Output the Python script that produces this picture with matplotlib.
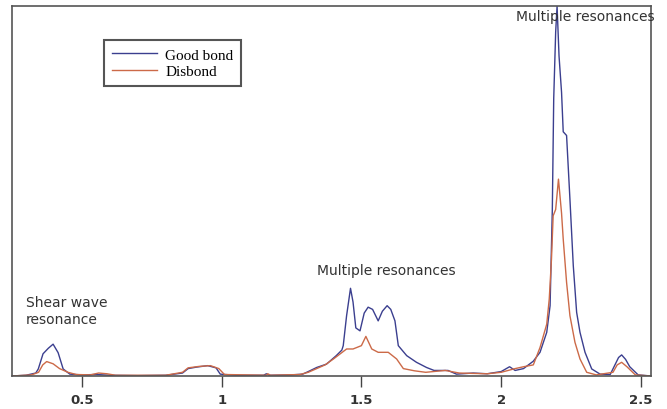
import matplotlib
matplotlib.use("Agg")
import matplotlib.pyplot as plt

# Frequency axis readings (arbitrary amplitude, peak normalised to 1)
good_x = [0.25, 0.30, 0.335, 0.344, 0.361, 0.38, 0.397, 0.415, 0.433, 0.457,
          0.50, 0.55, 0.60, 0.70, 0.80, 0.86, 0.88, 0.91, 0.95, 0.98, 0.995,
          1.05, 1.15, 1.16, 1.17, 1.25, 1.29, 1.31, 1.34, 1.375, 1.41, 1.43,
          1.435, 1.447, 1.461, 1.47, 1.48, 1.495, 1.51, 1.524, 1.54, 1.56,
          1.575, 1.592, 1.605, 1.62, 1.632, 1.662, 1.697, 1.733, 1.76, 1.81,
          1.84, 1.90, 1.95, 2.00, 2.03, 2.05, 2.08, 2.115, 2.139, 2.163, 2.175,
          2.183, 2.188, 2.195, 2.20, 2.207, 2.216, 2.222, 2.234, 2.246, 2.258,
          2.27, 2.282, 2.30, 2.324, 2.354, 2.39, 2.407, 2.42, 2.431, 2.445,
          2.46, 2.49, 2.536]
good_y = [0.0, 0.002, 0.008, 0.019, 0.06, 0.075, 0.086, 0.063, 0.019, 0.005,
          0.003, 0.004, 0.002, 0.001, 0.002, 0.008, 0.02, 0.024, 0.028, 0.022, 0.005,
          0.002, 0.002, 0.006, 0.002, 0.003, 0.005, 0.012, 0.023, 0.032, 0.055, 0.07,
          0.082, 0.163, 0.237, 0.20, 0.13, 0.122, 0.17, 0.186, 0.18, 0.149,
          0.175, 0.19, 0.18, 0.149, 0.082, 0.055, 0.037, 0.023, 0.015, 0.015,
          0.005, 0.008, 0.006, 0.012, 0.025, 0.015, 0.02, 0.04, 0.064, 0.118, 0.19,
          0.45, 0.75, 0.93, 1.0, 0.865, 0.767, 0.66, 0.65, 0.478, 0.298,
          0.172, 0.118, 0.064, 0.019, 0.005, 0.004, 0.03, 0.05, 0.057, 0.045,
          0.025, 0.003, 0.0]

dis_x = [0.25, 0.32, 0.345, 0.36, 0.374, 0.397, 0.42, 0.45, 0.48, 0.53, 0.56,
         0.59, 0.62, 0.80, 0.86, 0.88, 0.92, 0.96, 0.99, 1.01, 1.16, 1.165, 1.175,
         1.28, 1.31, 1.34, 1.37, 1.40, 1.447, 1.47, 1.50, 1.516, 1.537, 1.56,
         1.596, 1.626, 1.65, 1.69, 1.73, 1.80, 1.85, 1.95, 2.00, 2.05, 2.08,
         2.115, 2.139, 2.163, 2.172, 2.18, 2.186, 2.195, 2.205, 2.216, 2.222,
         2.234, 2.246, 2.264, 2.282, 2.306, 2.34, 2.40, 2.415, 2.431, 2.45,
         2.48, 2.536]
dis_y = [0.0, 0.003, 0.01, 0.03, 0.039, 0.033, 0.02, 0.01, 0.004, 0.003, 0.008,
         0.006, 0.002, 0.002, 0.01, 0.022, 0.026, 0.028, 0.02, 0.004, 0.002, 0.006, 0.002,
         0.004, 0.01, 0.02, 0.03, 0.046, 0.073, 0.073, 0.082, 0.107, 0.073, 0.064,
         0.064, 0.046, 0.02, 0.014, 0.01, 0.015, 0.008, 0.006, 0.01, 0.02, 0.025,
         0.03, 0.077, 0.14, 0.208, 0.316, 0.433, 0.45, 0.532, 0.44, 0.37,
         0.253, 0.163, 0.091, 0.046, 0.01, 0.003, 0.01, 0.03, 0.037, 0.025,
         0.003, 0.0]

xticks = [0.5, 1, 1.5, 2, 2.5]
xtick_labels = ["0.5", "1", "1.5", "2", "2.5"]

fig = plt.figure(figsize=(6.67, 4.10), dpi=100)
ax = fig.add_axes([0.018, 0.0805, 0.958, 0.9025])

ax.plot(good_x, good_y, color="#3b3f8f", lw=1.0, label="Good bond")
ax.plot(dis_x, dis_y, color="#cc6a48", lw=1.0, label="Disbond")

ax.set_xlim(0.25, 2.536)
ax.set_ylim(0, 1.0)
ax.set_yticks([])
ax.set_xticks(xticks)
ax.set_xticklabels(xtick_labels, fontsize=9.5, fontweight="bold", color="#333333")
ax.tick_params(axis="x", direction="out", length=8, width=1, color="#444444", pad=4)
for s in ax.spines.values():
    s.set_color("#555555")
    s.set_linewidth(1.2)

leg = ax.legend(loc="upper left", bbox_to_anchor=(0.144, 0.907), frameon=True,
                fancybox=False, edgecolor="#555555", framealpha=1,
                prop={"family": "Liberation Serif", "size": 11},
                handlelength=3.0, handletextpad=0.5, borderpad=0.5,
                labelspacing=0.2, borderaxespad=0)
leg.get_frame().set_linewidth(1.5)

txt = dict(fontsize=10, color="#333333", family="DejaVu Sans")
ax.text(0.30, 0.178, "Shear wave\nresonance", ha="left", va="center",
        linespacing=1.25, **txt)
ax.text(1.34, 0.287, "Multiple resonances", ha="left", va="center", **txt)
ax.text(2.55, 0.973, "Multiple resonances", ha="right", va="center",
        clip_on=False, **txt)

fig.savefig("out.png", dpi=100)
